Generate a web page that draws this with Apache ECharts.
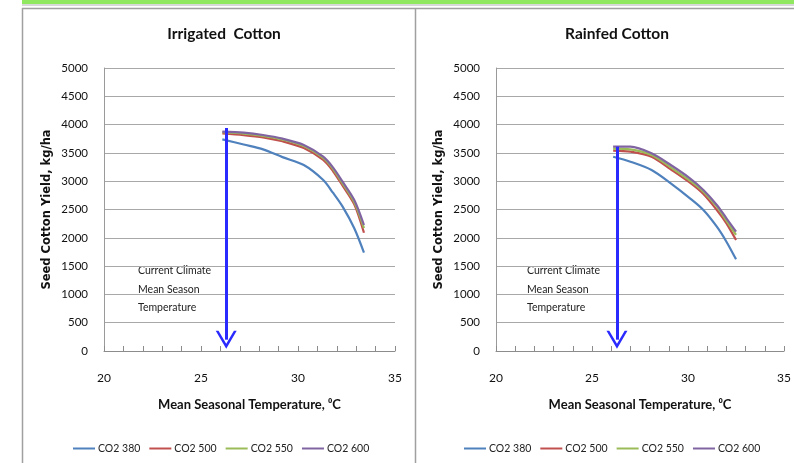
<!DOCTYPE html>
<html>
<head>
<meta charset="utf-8">
<script src="https://cdn.jsdelivr.net/npm/echarts@6/dist/echarts.min.js"></script>
<style>
html,body{margin:0;padding:0;background:#fff;}
#chart{width:794px;height:463px;}
</style>
</head>
<body>
<div id="chart"></div>
<script>
// ---- data ----
const seriesNames = ['CO2 380', 'CO2 500', 'CO2 550', 'CO2 600'];
const seriesColors = ['#4f81bd', '#c0504d', '#9bbb59', '#8064a2'];

const irrTemp = [26.1, 27.2, 28.2, 29.2, 30.3, 31.3, 31.8, 32.3, 32.9, 33.4];
const irr380 = [3740, 3648, 3563, 3425, 3286, 3021, 2797, 2550, 2168, 1737];
const irr500 = [3845, 3815, 3775, 3705, 3585, 3375, 3180, 2920, 2590, 2090];
const irr550 = [3865, 3840, 3800, 3735, 3620, 3410, 3220, 2960, 2630, 2170];
const irr600 = [3875, 3857, 3816, 3751, 3640, 3433, 3245, 2991, 2668, 2226];

const rfTemp = [26.1, 27.0, 28.1, 29.1, 30.1, 30.8, 31.5, 32.0, 32.5];
const rf380 = [3433, 3345, 3198, 2963, 2698, 2491, 2196, 1931, 1620];
const rf500 = [3539, 3521, 3433, 3210, 2974, 2774, 2491, 2256, 1961];
const rf550 = [3575, 3563, 3463, 3245, 3009, 2815, 2550, 2303, 2050];
const rf600 = [3610, 3610, 3493, 3286, 3051, 2845, 2580, 2345, 2108];

const currentTemp = 26.3;
const arrowTopIrr = 3940;
const arrowTopRf = 3610;
const arrowBottom = 200;

const titles = ['Irrigated  Cotton', 'Rainfed Cotton'];
const yName = 'Seed Cotton Yield, kg/ha';
const xName = 'Mean Seasonal Temperature, \u2070C';
const noteLines = ['Current Climate', 'Mean Season', 'Temperature'];

// ---- build ----
const chart = echarts.init(document.getElementById('chart'), null, {renderer: 'canvas'});
const FONT = 'Lato';

function pairs(t, v) { return t.map((x, i) => [x, v[i]]); }

const arrowSymbol = 'path://M0,18 L10.5,0 L21,18 L18.2,18 L10.5,5 L2.8,18 Z';

function makeSeries(gi, temps, sets, arrowTop) {
  return sets.map((vals, k) => {
    const s = {
      name: seriesNames[k],
      type: 'line',
      xAxisIndex: gi, yAxisIndex: gi,
      data: pairs(temps, vals),
      smooth: 0.3,
      showSymbol: false,
      symbol: 'none',
      lineStyle: {color: seriesColors[k], width: 2.2},
      itemStyle: {color: seriesColors[k]},
      z: 3 + k
    };
    if (k === 0) {
      s.markLine = {
        silent: true,
        symbol: ['none', arrowSymbol],
        symbolSize: [21, 18],
        label: {show: false},
        lineStyle: {color: '#2a2aff', width: 3, type: 'solid'},
        z: 10,
        data: [[{coord: [currentTemp, arrowTop]}, {coord: [currentTemp, arrowBottom]}]]
      };
    }
    return s;
  });
}

const xAxisCommon = {
  type: 'value', min: 20, max: 35, interval: 5,
  name: xName, nameLocation: 'middle', nameGap: 47,
  nameTextStyle: {fontFamily: FONT, fontWeight: 'bold', fontSize: 13, color: '#111'},
  axisLine: {show: true, lineStyle: {color: '#8c8c8c', width: 1}},
  axisTick: {show: true, inside: true, length: 5, lineStyle: {color: '#8c8c8c'}},
  minorTick: {show: true, splitNumber: 5, length: 5, lineStyle: {color: '#8c8c8c'}},
  axisLabel: {fontFamily: FONT, fontSize: 12, color: '#111', margin: 21},
  splitLine: {show: false}
};
const yAxisCommon = {
  type: 'value', min: 0, max: 5000, interval: 500,
  name: yName, nameLocation: 'middle', nameGap: 51,
  nameTextStyle: {fontFamily: 'DejaVu Sans', fontWeight: 'bold', fontSize: 11.5, color: '#111'},
  axisLine: {show: true, lineStyle: {color: '#9a9a9a', width: 1}},
  axisTick: {show: false},
  axisLabel: {fontFamily: FONT, fontSize: 11.5, color: '#111', margin: 16, formatter: v => String(v)},
  splitLine: {show: true, lineStyle: {color: '#a8a8a8', width: 1}}
};

function noteGraphics(x) {
  const ys = [272, 291, 309];
  return noteLines.map((t, i) => ({
    type: 'text', left: x, top: ys[i] - 7, silent: true,
    style: {text: t, font: '10.5px ' + FONT, fill: '#222'}
  }));
}

const legendCommon = {data: seriesNames, top: 438, itemWidth: 22, itemHeight: 2, icon: 'rect', itemGap: 9,
  textStyle: {fontFamily: FONT, fontSize: 10.5, color: '#222', padding: [0, 0, 0, -2]}};

const option = {
  animation: false,
  backgroundColor: '#fff',
  title: [
    {text: titles[0], left: 219, top: 21, textAlign: 'center',
     textStyle: {fontFamily: FONT, fontWeight: 'bold', fontSize: 15.5, color: '#111'}},
    {text: titles[1], left: 612, top: 21, textAlign: 'center',
     textStyle: {fontFamily: FONT, fontWeight: 'bold', fontSize: 15.5, color: '#111'}}
  ],
  grid: [
    {left: 104, width: 291, top: 68, height: 283},
    {left: 496, width: 293, top: 68, height: 283}
  ],
  xAxis: [Object.assign({gridIndex: 0}, xAxisCommon), Object.assign({gridIndex: 1}, xAxisCommon)],
  yAxis: [Object.assign({gridIndex: 0}, yAxisCommon), Object.assign({gridIndex: 1}, yAxisCommon)],
  legend: [
    Object.assign({left: 68}, legendCommon),
    Object.assign({left: 459}, legendCommon)
  ],
  graphic: [
    {type: 'rect', silent: true, shape: {x: 22, y: 0, width: 772, height: 4}, style: {fill: '#90e860'}},
    {type: 'line', silent: true, shape: {x1: 22, y1: 5, x2: 794, y2: 5}, style: {stroke: '#b0b0b0', lineWidth: 1}},
    {type: 'line', silent: true, shape: {x1: 22, y1: 8.5, x2: 794, y2: 8.5}, style: {stroke: '#a0a0a0', lineWidth: 1.5}},
    {type: 'line', silent: true, shape: {x1: 22.5, y1: 8, x2: 22.5, y2: 463}, style: {stroke: '#a0a0a0', lineWidth: 1.5}},
    {type: 'line', silent: true, shape: {x1: 415.5, y1: 8, x2: 415.5, y2: 463}, style: {stroke: '#a0a0a0', lineWidth: 1.5}}
  ].concat(noteGraphics(138)).concat(noteGraphics(527)),
  series: makeSeries(0, irrTemp, [irr380, irr500, irr550, irr600], arrowTopIrr)
    .concat(makeSeries(1, rfTemp, [rf380, rf500, rf550, rf600], arrowTopRf))
};
chart.setOption(option);
</script>
</body>
</html>
